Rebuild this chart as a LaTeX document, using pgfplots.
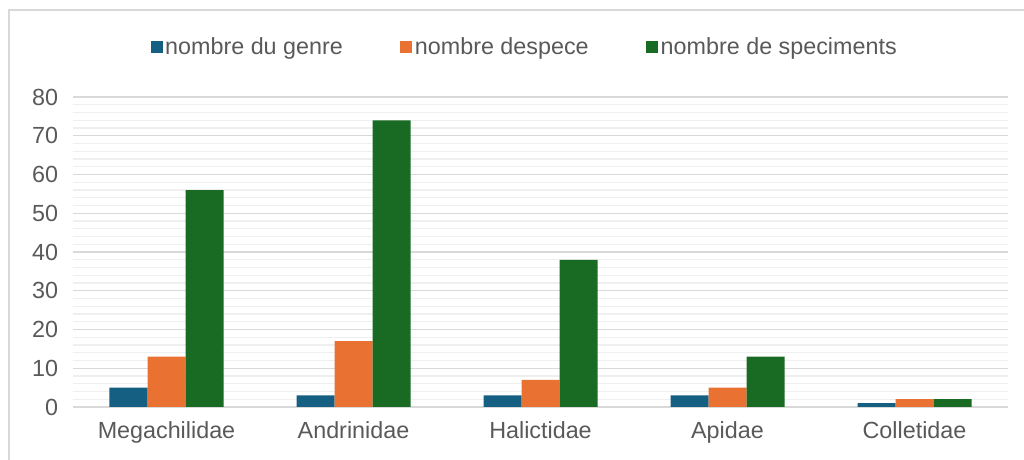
\documentclass[border=0pt]{standalone}
\usepackage{fontspec}
\setmainfont{Liberation Sans}
\usepackage{pgfplots}
\pgfplotsset{compat=1.18}
\definecolor{cblue}{HTML}{156082}
\definecolor{corange}{HTML}{E97132}
\definecolor{cgreen}{HTML}{196B24}
\definecolor{txt}{HTML}{595959}
\definecolor{gmaj}{HTML}{D9D9D9}
\definecolor{gmin}{HTML}{EFEFEF}
\begin{document}
\begin{tikzpicture}
\useasboundingbox (-54.75pt,-39.75pt) rectangle (713.25pt,305.25pt);
\draw[gmaj, line width=1.2pt] (-48pt,-40pt) -- (-48pt,297.75pt) -- (714pt,297.75pt);
\begin{axis}[
  scale only axis,
  width=701.25pt, height=232.5pt,
  ybar, bar width=28.5pt,
  xmin=-0.5, xmax=4.5,
  ymin=0, ymax=80,
  xtick={0,1,2,3,4},
  xticklabels={Megachilidae,Andrinidae,Halictidae,Apidae,Colletidae},
  ytick={0,10,...,80},
  minor ytick={2,4,...,78},
  /pgf/number format/assume math mode=true,
  ymajorgrids, yminorgrids,
  major grid style={gmaj, line width=1pt},
  minor grid style={gmin, line width=0.9pt},
  axis line style={draw=none},
  major tick length=0pt, minor tick length=0pt,
  tick style={draw=none},
  ticklabel style={font=\fontsize{17.5}{21}\selectfont, text=txt},
  yticklabel style={xshift=-7.7pt},
  xticklabel style={yshift=-7.7pt},
  legend columns=3,
  legend style={draw=none, fill=none, at={(0.4834,1.161)}, anchor=center,
    font=\fontsize{17.5}{21}\selectfont, text=txt,
    /tikz/every even column/.append style={column sep=41pt},
    nodes={inner sep=2pt}},
  legend image code/.code={\fill[#1, draw=none] (0pt,-4.5pt) rectangle (9pt,4.5pt);},
]
\addplot[fill=cblue, draw=none, bar shift=-28.5pt] coordinates {(0,5) (1,3) (2,3) (3,3) (4,1)};
\addplot[fill=corange, draw=none, bar shift=0pt] coordinates {(0,13) (1,17) (2,7) (3,5) (4,2)};
\addplot[fill=cgreen, draw=none, bar shift=28.5pt] coordinates {(0,56) (1,74) (2,38) (3,13) (4,2)};
\legend{nombre du genre, nombre despece, nombre de speciments}
\end{axis}
\end{tikzpicture}
\end{document}
